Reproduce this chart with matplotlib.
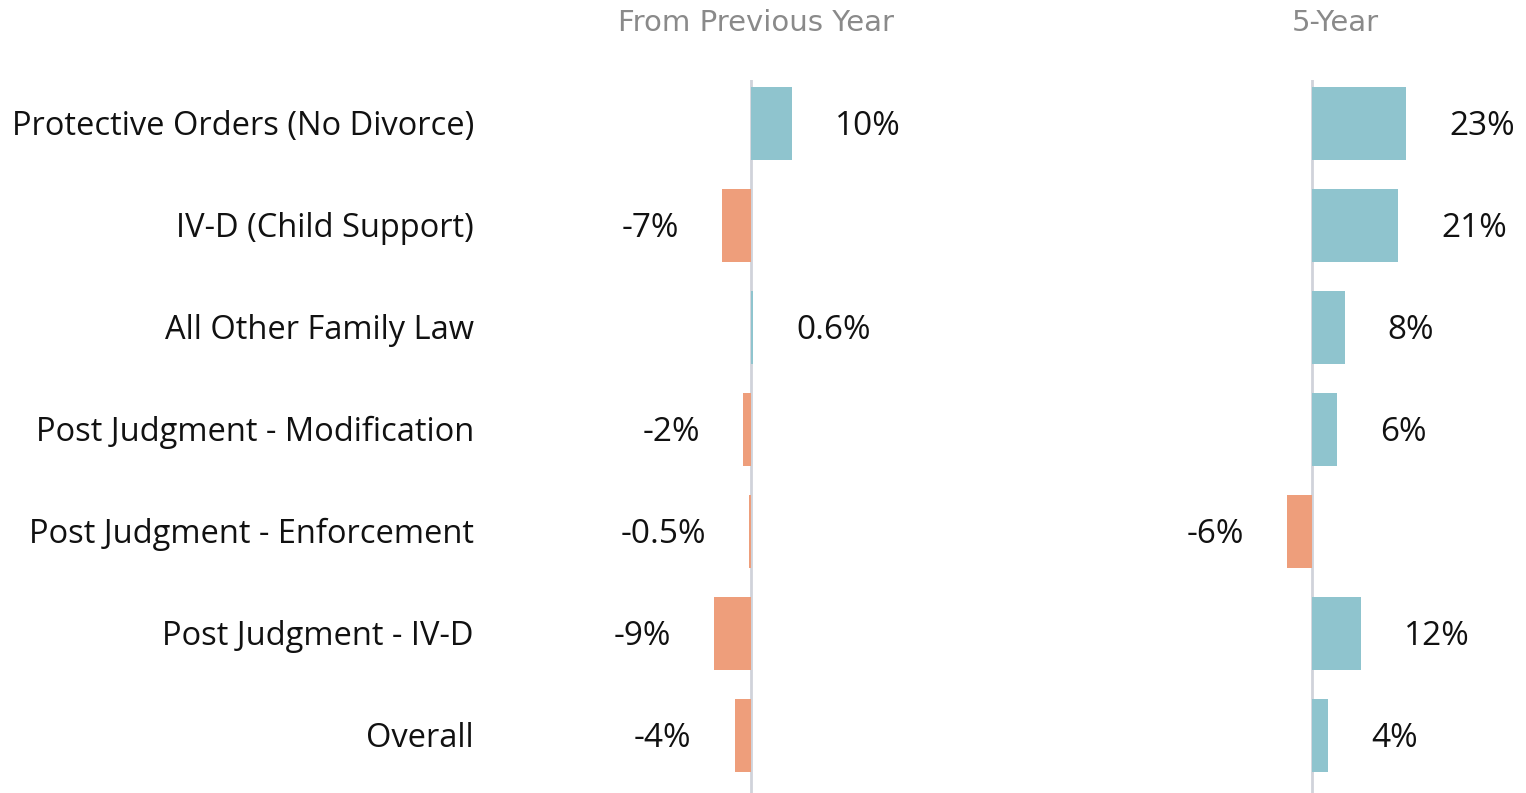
import matplotlib

matplotlib.use("Agg")

import matplotlib.pyplot as plt

categories = [
    "Protective Orders (No Divorce)",
    "IV-D (Child Support)",
    "All Other Family Law",
    "Post Judgment - Modification",
    "Post Judgment - Enforcement",
    "Post Judgment - IV-D",
    "Overall",
]
prev_year_pct = [10, -7, 0.6, -2, -0.5, -9, -4]
five_year_pct = [23, 21, 8, 6, -6, 12, 4]
prev_year_labels = ["10%", "-7%", "0.6%", "-2%", "-0.5%", "-9%", "-4%"]
five_year_labels = ["23%", "21%", "8%", "6%", "-6%", "12%", "4%"]
panel_titles = ["From Previous Year", "5-Year"]

BLUE = "#8fc4ce"
ORANGE = "#ee9e7b"
ZERO_LINE = "#d0d3da"
TITLE_GRAY = "#8a8a8a"
TEXT = "#111111"

W, H = 1526, 793
PX_PER_PCT = 4.1
ROW_PX = 102
FIRST_ROW_Y = 123.5
AX_TOP = 80

LABEL_FONT = "Open Sans"
CAT_SIZE = 23.5
VAL_SIZE = 24
CAP = 0.714  # Open Sans cap height / em

fig = plt.figure(figsize=(W / 100, H / 100), dpi=100)
fig.patch.set_facecolor("white")


def make_panel(left_px, right_px, zero_px, values, labels, title, title_x):
    ax = fig.add_axes([left_px / W, 0, (right_px - left_px) / W, (H - AX_TOP) / H])
    ax.set_xlim(-(zero_px - left_px) / PX_PER_PCT, (right_px - zero_px) / PX_PER_PCT)
    rows = list(range(len(values)))
    ax.set_ylim((H - FIRST_ROW_Y) / ROW_PX, -(FIRST_ROW_Y - AX_TOP) / ROW_PX)
    colors = [BLUE if v >= 0 else ORANGE for v in values]
    ax.axvline(0, color=ZERO_LINE, linewidth=2.0, zorder=1)
    ax.barh(rows, values, height=0.72, color=colors, zorder=2)
    for r, v, lab in zip(rows, values, labels):
        off = 31 if v >= 0 else -31
        ax.annotate(
            lab,
            xy=(v, r),
            xytext=(off, -CAP * VAL_SIZE / 2),
            textcoords="offset points",
            ha="left" if v >= 0 else "right",
            va="baseline",
            fontsize=VAL_SIZE,
            family=LABEL_FONT,
            color=TEXT,
            annotation_clip=False,
        )
    ax.axis("off")
    fig.text(title_x / W, 1 - 23 / H, title, ha="center", va="center",
             fontsize=21, color=TITLE_GRAY, family="DejaVu Sans")
    return ax


ax_left = make_panel(560, 990, 751, prev_year_pct, prev_year_labels, panel_titles[0], 756)
ax_right = make_panel(1130, 1526, 1312, five_year_pct, five_year_labels, panel_titles[1], 1335)

for r, name in enumerate(categories):
    ax_left.annotate(
        name,
        xy=(474 / W, r),
        xycoords=("figure fraction", "data"),
        xytext=(0, -CAP * CAT_SIZE / 2),
        textcoords="offset points",
        ha="right",
        va="baseline",
        fontsize=CAT_SIZE,
        family=LABEL_FONT,
        color=TEXT,
        annotation_clip=False,
    )

fig.savefig("out.png", dpi=100, facecolor="white")
plt.close(fig)
